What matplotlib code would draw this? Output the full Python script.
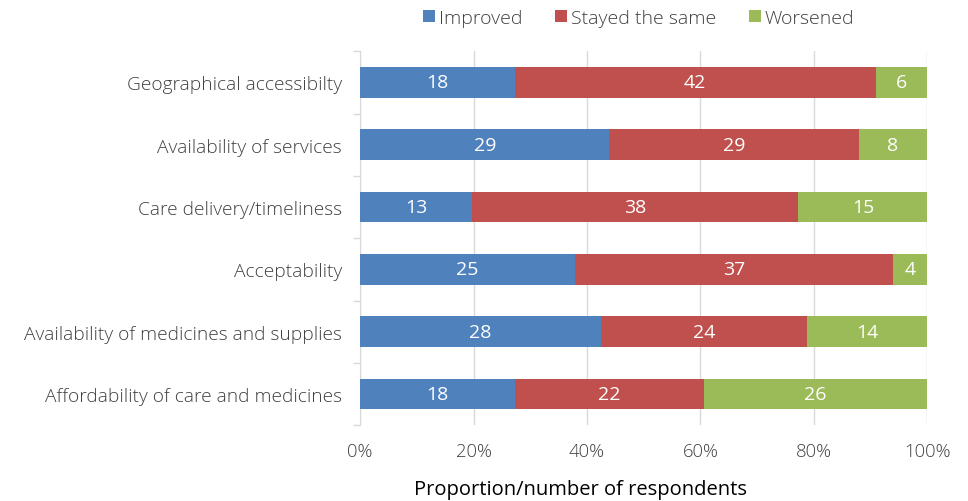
import matplotlib.pyplot as plt
import numpy as np
from matplotlib.ticker import PercentFormatter

categories = ["Geographical accessibilty", "Availability of services",
              "Care delivery/timeliness", "Acceptability",
              "Availability of medicines and supplies",
              "Affordability of care and medicines"]
improved = [18, 29, 13, 25, 28, 18]
same = [42, 29, 38, 37, 24, 22]
worsened = [6, 8, 15, 4, 14, 26]
series_names = ["Improved", "Stayed the same", "Worsened"]
colors = ["#4F81BD", "#C0504D", "#9BBB59"]

plt.rcParams['font.family'] = ['Open Sans', 'DejaVu Sans']
plt.rcParams['font.weight'] = 'light'
text_col = "#404040"

fig = plt.figure(figsize=(9.68, 5.02), dpi=100)
ax = fig.add_axes([0.372, 0.151, 0.586, 0.745])

data = np.array([improved, same, worsened], dtype=float)
totals = data.sum(axis=0)
pct = data / totals * 100
y = np.arange(len(categories))

left = np.zeros(len(categories))
for i in range(3):
    bars = ax.barh(y, pct[i], left=left, height=0.49, color=colors[i],
                   label=series_names[i], zorder=3)
    for j, b in enumerate(bars):
        ax.text(left[j] + pct[i][j] / 2, y[j], str(int(data[i][j])),
                ha='center', va='center', color='white', fontsize=14,
                fontweight='normal', zorder=4)
    left += pct[i]

ax.set_ylim(len(categories) - 0.5, -0.5)
ax.set_xlim(0, 100)
ax.set_yticks(y)
ax.set_yticklabels(categories, fontsize=13.8, color=text_col)
ax.set_yticks(np.arange(-0.5, len(categories)), minor=True)
ax.set_xticks(np.arange(0, 101, 20))
ax.xaxis.set_major_formatter(PercentFormatter(decimals=0))
ax.tick_params(axis='x', labelsize=13.3, colors=text_col, length=0, pad=12)
ax.tick_params(axis='y', which='major', length=0, pad=13)
ax.tick_params(axis='y', which='minor', length=5, color='#D9D9D9', width=1)
ax.grid(axis='x', color='#D9D9D9', linewidth=1, zorder=0)
for s in ['top', 'right', 'bottom']:
    ax.spines[s].set_visible(False)
ax.spines['left'].set_color('#D9D9D9')

fig.text(581 / 968, 1 - 490 / 502, "Proportion/number of respondents", fontsize=14.5,
         color='black', fontweight='normal', ha='center', va='center')

leg = fig.legend(loc='upper center', bbox_to_anchor=(0.66, 1.015), ncol=3, frameon=False,
                 fontsize=14, handlelength=0.6, handleheight=0.6, handletextpad=0.2,
                 columnspacing=1.7)
for t in leg.get_texts():
    t.set_color(text_col)

fig.savefig("out.png", dpi=100)
